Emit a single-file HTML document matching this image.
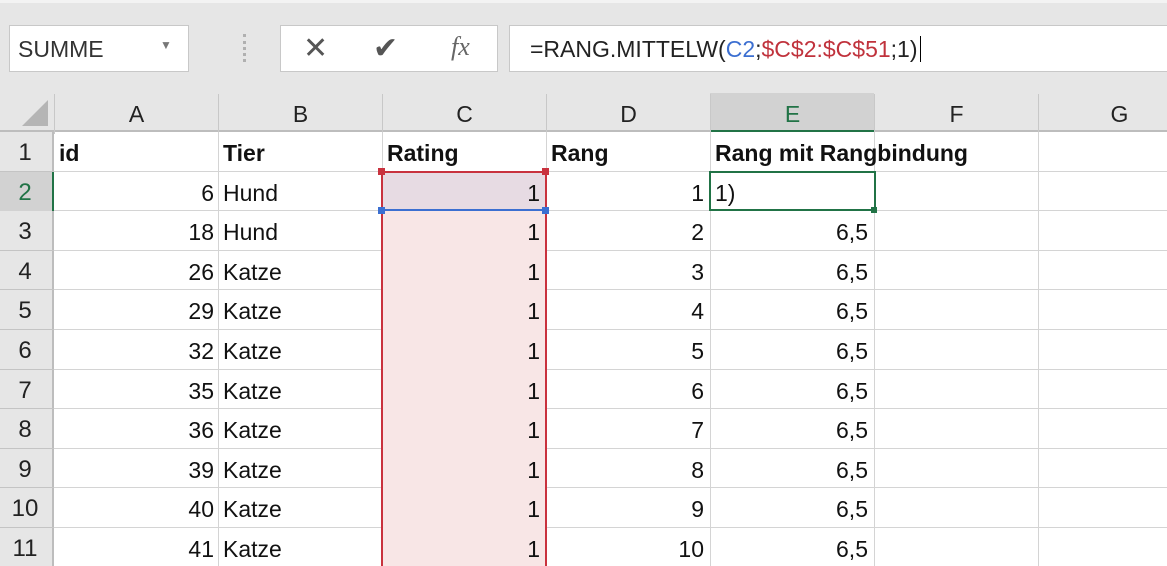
<!DOCTYPE html>
<html><head><meta charset="utf-8"><style>
html,body{margin:0;width:1167px;height:566px;overflow:hidden}
body{background:#fff;font-family:"Liberation Sans",sans-serif;position:relative}
.a{position:absolute;box-sizing:border-box}
.t{font-size:23px;color:#111;white-space:nowrap;line-height:40px}
</style></head><body>
<div class="a" style="left:0;top:0;width:1167px;height:93px;background:#e6e6e6;border-top:3px solid #f3f3f3"></div>
<div class="a" style="left:9px;top:25px;width:180px;height:47px;background:#fff;border:1px solid #c8c8c8"><span class="a" style="left:8px;top:10px;font-size:23px;color:#333">SUMME</span><span class="a" style="left:150px;top:12px;font-size:12px;color:#777">▼</span></div>
<div class="a" style="left:243px;top:34px;width:4px;height:28px;border-left:3px dotted #b0b0b0"></div>
<div class="a" style="left:280px;top:25px;width:218px;height:47px;background:#fff;border:1px solid #c8c8c8">
<span class="a" style="left:22px;top:5px;font-size:30px;color:#555">✕</span>
<span class="a" style="left:92px;top:5px;font-size:30px;color:#555">✔</span>
<span class="a" style="left:170px;top:6px;font-size:26px;color:#666;font-family:'Liberation Serif',serif;font-style:italic">fx</span></div>
<div class="a" style="left:509px;top:25px;width:670px;height:47px;background:#fff;border:1px solid #c8c8c8"><span class="a" style="left:20px;top:10px;font-size:23px;color:#222;white-space:nowrap">=RANG.MITTELW(<span style="color:#3c6fd1">C2</span>;<span style="color:#c0323c">$C$2:$C$51</span>;1)<span style="border-left:1px solid #000;margin-left:2px"></span></span></div>
<div id="g"></div>
<script>
var cols=['A','B','C','D','E','F','G'];
var colX=[54,218,382,546,710,874,1038,1200];
var ids=[6,18,26,29,32,35,36,39,40,41];
var tiere=['Hund','Hund','Katze','Katze','Katze','Katze','Katze','Katze','Katze','Katze'];
var rating=[1,1,1,1,1,1,1,1,1,1];
var rang=[1,2,3,4,5,6,7,8,9,10];
var rb=['1)','6,5','6,5','6,5','6,5','6,5','6,5','6,5','6,5','6,5'];
var H0=93,HH=39,R0=132,RH=39.6,BOT=566;
var g=document.getElementById('g');
function d(css,txt,name,inter){var e=document.createElement('div');e.className='a';e.style.cssText=css;if(txt!==undefined){e.className='a t';e.textContent=txt;}


g.appendChild(e);return e;}
d('left:0;top:'+H0+'px;width:1167px;height:'+HH+'px;background:#e6e6e6;border-bottom:2px solid #bdbdbd',undefined,'column-header-row',false);
d('left:0;top:'+R0+'px;width:54px;height:'+(BOT-R0)+'px;background:#e6e6e6;border-right:2px solid #bdbdbd',undefined,'row-header-column',false);
d('left:22px;top:100px;width:0;height:0;border-left:26px solid transparent;border-bottom:26px solid #b5b5b5',undefined,'select-all-corner',true);
d('left:710px;top:'+H0+'px;width:164px;height:'+HH+'px;background:#d2d2d2;border-bottom:2px solid #217346',undefined,'active-column-header',false);
for(var i=0;i<7;i++){
 d('left:'+colX[i]+'px;top:'+(H0+1)+'px;width:'+(colX[i+1]-colX[i])+'px;text-align:center;color:'+(i==4?'#217346':'#222')+';border-left:1px solid #c8c8c8',cols[i],'column-header-'+cols[i],true);
}
for(var r=0;r<10;r++){
 var y=R0+r*RH;
 d('left:54px;top:'+(y+RH-1)+'px;width:1113px;height:1px;background:#d4d4d4',undefined,'row-gridline',false);
 d('left:0;top:'+(y+RH-1)+'px;width:54px;height:1px;background:#c4c4c4',undefined,'row-header-line',false);
}
for(var i=1;i<7;i++) d('left:'+colX[i]+'px;top:'+R0+'px;width:1px;height:'+(BOT-R0)+'px;background:#d4d4d4',undefined,'column-gridline',false);
d('left:383px;top:'+(R0+RH)+'px;width:162px;height:'+(BOT-R0-RH)+'px;background:#f8e6e6',undefined,'range-highlight',false);
d('left:383px;top:'+(R0+RH)+'px;width:162px;height:'+RH+'px;background:#e7dbe3',undefined,'cell-C2-highlight',false);
d('left:0;top:'+(R0+RH)+'px;width:54px;height:'+RH+'px;background:#d2d2d2;border-right:2px solid #217346',undefined,'active-row-header',false);
for(var r=0;r<11;r++){
 d('left:0;top:'+(R0+r*RH+1)+'px;width:50px;font-size:24px;text-align:center;color:'+(r==1?'#217346':'#222'),String(r+1),'row-header-'+(r+1),true);
}
var hd=[['id',0],['Tier',1],['Rating',2],['Rang',3],['Rang mit Rangbindung',4]];
hd.forEach(function(h){d('left:'+(colX[h[1]]+5)+'px;top:'+(R0+1)+'px;font-weight:bold',h[0],'header-'+h[0].toLowerCase().replace(/ /g,'-'),true);});
for(var r=0;r<10;r++){
 var y=R0+(r+1)*RH+1;
 d('left:'+colX[0]+'px;top:'+y+'px;width:160px;text-align:right',String(ids[r]),'cell-id',true);
 d('left:'+(colX[1]+5)+'px;top:'+y+'px',tiere[r],'cell-tier',true);
 d('left:'+colX[2]+'px;top:'+y+'px;width:158px;text-align:right',String(rating[r]),'cell-rating',true);
 d('left:'+colX[3]+'px;top:'+y+'px;width:158px;text-align:right',String(rang[r]),'cell-rang',true);
 if(r==0) d('left:'+(colX[4]+5)+'px;top:'+y+'px',rb[r],'cell-rangbindung-editing',true);
 else d('left:'+colX[4]+'px;top:'+y+'px;width:158px;text-align:right',rb[r],'cell-rangbindung',true);
}
d('left:381px;top:'+(R0+RH-1)+'px;width:166px;height:'+(BOT-R0-RH+1)+'px;border:2px solid #c9323e;border-bottom:none',undefined,'range-reference-border',false);
d('left:383px;top:'+(R0+2*RH-2)+'px;width:162px;height:2px;background:#3b6fd1',undefined,'c2-reference-border',false);
[[378,R0+RH-4,'#c9323e'],[542,R0+RH-4,'#c9323e'],[378,R0+2*RH-4,'#3b6fd1'],[542,R0+2*RH-4,'#3b6fd1']].forEach(function(p){d('left:'+p[0]+'px;top:'+p[1]+'px;width:7px;height:7px;background:'+p[2],undefined,'range-handle',true);});
d('left:709px;top:'+(R0+RH-1)+'px;width:167px;height:'+(RH+1)+'px;border:2px solid #217346',undefined,'active-cell-E2',true);
d('left:871px;top:'+(R0+2*RH-4)+'px;width:6px;height:6px;background:#217346',undefined,'fill-handle',true);
</script>
</body></html>
